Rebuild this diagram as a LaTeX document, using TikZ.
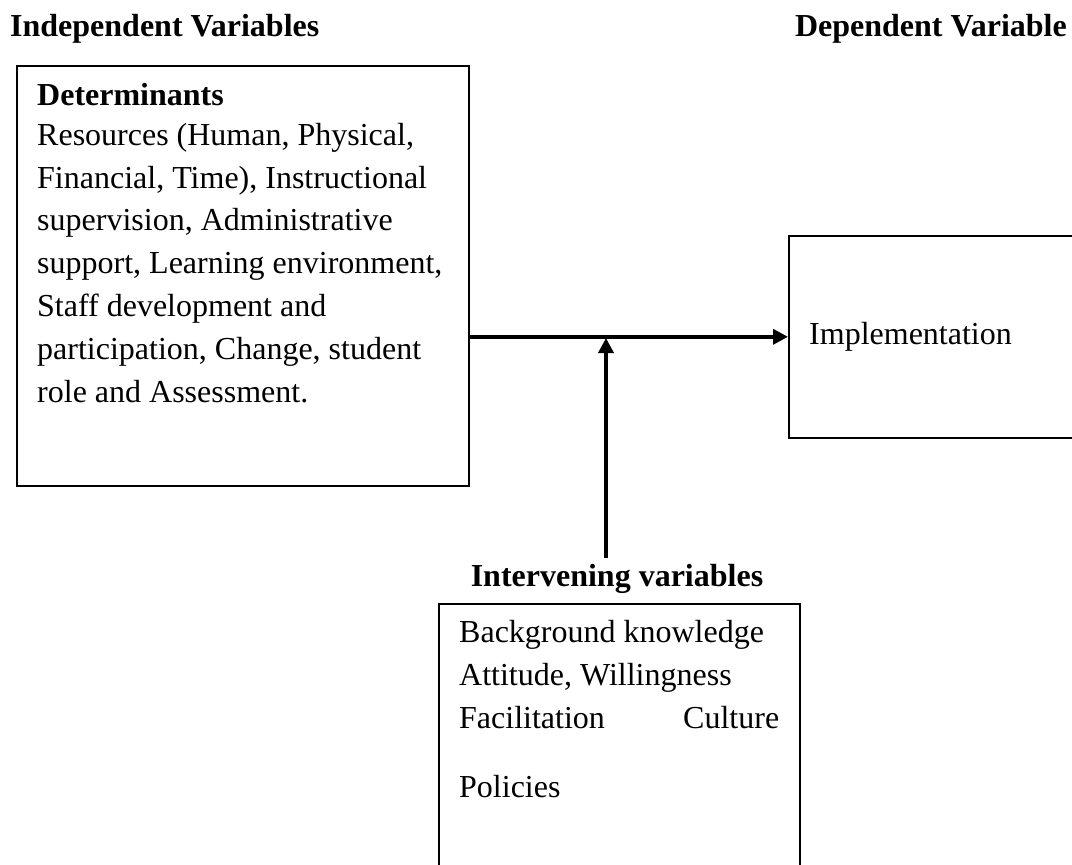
\documentclass[tikz,border=0pt]{standalone}
\usepackage{fontspec}
\setmainfont{Liberation Serif}
\usetikzlibrary{arrows.meta}

\begin{document}
\begin{tikzpicture}[x=1pt, y=-1pt,
    every node/.style={font=\fontsize{32}{42.8}\selectfont},
    heading/.style={font=\fontsize{32}{42.8}\selectfont\bfseries, inner sep=0pt},
    varbox/.style={draw, line width=1.6pt, anchor=north west, inner sep=0pt},
    boxtext/.style={anchor=base west, align=left, inner sep=0pt},
    flow/.style={-{Triangle[length=15pt,width=15pt]}, line width=3.5pt}]
    \useasboundingbox (0,0) rectangle (1072,865);
    \clip (0,0) rectangle (1072,865);
    % headings
    \node[heading, anchor=base west] (indep) at (10,36) {Independent Variables};
    \node[heading, anchor=base east] (dep) at (1067,36) {Dependent Variable};
    \node[heading, anchor=base] (ivlabel) at (617,586) {Intervening variables};
    % boxes (text anchored at the baseline of its last line)
    \node[varbox, minimum width=452, minimum height=420] (det) at (16,65) {};
    \node[boxtext] (dettxt) at (37,402) {\textbf{Determinants}\\[-2.8pt]
        Resources (Human, Physical,\\ Financial, Time), Instructional\\
        supervision, Administrative\\ support, Learning environment,\\
        Staff development and\\ participation, Change, student\\
        role and Assessment.};
    \node[varbox, minimum width=320, minimum height=202] (impl) at (788,235) {};
    \node[boxtext] (impltxt) at (809,344) {Implementation};
    \node[varbox, minimum width=361, minimum height=300] (interv) at (438,603) {};
    \node[boxtext] (ivtxt) at (459,797) {Background knowledge\\
        Attitude, Willingness\\ \makebox[320pt][l]{Facilitation\hfill Culture}\\[26pt]
        Policies};
    % arrows
    \coordinate (join) at (606,338);
    \draw[flow] (det.east |- impl.west) -- (impl.west);
    \draw[flow] ([yshift=6pt]ivlabel.north -| join) -- (join);
\end{tikzpicture}
\end{document}
